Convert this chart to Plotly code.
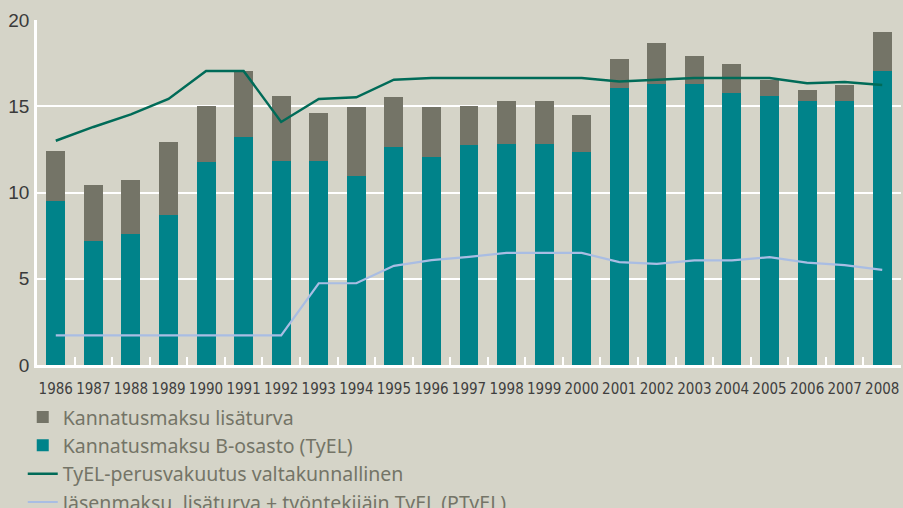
import plotly.graph_objects as go

years = [str(y) for y in range(1986, 2009)]
total = [12.40, 10.43, 10.72, 12.93, 15.01, 17.05, 15.60, 14.61, 14.96, 15.54, 14.96,
         15.01, 15.30, 15.30, 14.49, 17.74, 18.67, 17.92, 17.45, 16.53, 15.95, 16.24, 19.31]
b_osasto = [9.48, 7.18, 7.60, 8.69, 11.76, 13.21, 11.82, 11.82, 10.95, 12.63, 12.05,
            12.75, 12.81, 12.81, 12.35, 16.06, 16.29, 16.29, 15.77, 15.60, 15.30, 15.30, 17.05]
lisaturva = [round(t - b, 2) for t, b in zip(total, b_osasto)]
tyel_perus = [13.0, 13.8, 14.53, 15.42, 17.05, 17.05, 14.09, 15.42, 15.52, 16.54, 16.64,
              16.64, 16.64, 16.64, 16.64, 16.43, 16.52, 16.64, 16.64, 16.64, 16.33, 16.40, 16.23]
jasenmaksu = [1.72, 1.72, 1.72, 1.72, 1.72, 1.72, 1.72, 4.74, 4.74, 5.75, 6.08,
              6.27, 6.50, 6.50, 6.50, 5.96, 5.86, 6.06, 6.06, 6.25, 5.94, 5.79, 5.51]
y_ticks = [0, 5, 10, 15, 20]

BG = "#d5d4c8"
GRAY = "#747467"
TEAL = "#00838a"
DARK = "#006b58"
LIGHT = "#a9bde3"

fig = go.Figure()
fig.add_trace(go.Bar(x=years, y=b_osasto, name="Kannatusmaksu B-osasto (TyEL)",
                     marker=dict(color=TEAL, line=dict(width=0)), legendrank=2))
fig.add_trace(go.Bar(x=years, y=lisaturva, name="Kannatusmaksu lisäturva",
                     marker=dict(color=GRAY, line=dict(width=0)), legendrank=1))
fig.add_trace(go.Scatter(x=years, y=tyel_perus, mode="lines",
                         name="TyEL-perusvakuutus valtakunnallinen",
                         line=dict(color=DARK, width=2.5), legendrank=3))
fig.add_trace(go.Scatter(x=years, y=jasenmaksu, mode="lines",
                         name="Jäsenmaksu, lisäturva + työntekijäin TyEL (PTyEL)",
                         line=dict(color=LIGHT, width=2.2), legendrank=4))

fig.update_layout(
    width=903, height=508,
    margin=dict(l=37, r=2, t=20, b=143, autoexpand=False),
    paper_bgcolor=BG, plot_bgcolor=BG,
    barmode="stack", bargap=0.495,
    font=dict(family="Liberation Sans, Arial, sans-serif", color="#3a3a3a"),
    showlegend=True,
    legend=dict(
        x=-0.0165, xanchor="left", y=-0.095, yanchor="top",
        orientation="v", traceorder="normal",
        font=dict(size=19.5, color=GRAY, family="Noto Sans, Open Sans, sans-serif"),
        bgcolor="rgba(0,0,0,0)", itemwidth=30, tracegroupgap=0,
    ),
    xaxis=dict(
        type="category", range=[-0.5, 22.5], automargin=False,
        showgrid=False, showline=True, linecolor="white", linewidth=2.5,
        ticks="inside", tickson="boundaries", tickcolor="white",
        ticklen=8, tickwidth=2, tickangle=0,
        tickfont=dict(size=15, color="#3f3f3f",
                      family="DejaVu Sans Condensed, Liberation Sans Narrow, Liberation Sans, sans-serif"),
        ticklabelstandoff=8,
    ),
    yaxis=dict(
        range=[0, 20], tickvals=y_ticks, ticktext=[str(v) for v in y_ticks],
        automargin=False,
        showgrid=True, gridcolor="white", gridwidth=2,
        showline=True, linecolor="white", linewidth=2.5,
        zeroline=False, ticks="",
        tickfont=dict(size=19, color="#3a3a3a", family="Liberation Sans, Arial, sans-serif"),
        ticklabelstandoff=1,
    ),
)

fig.write_html(
    "out.html",
    config={"displayModeBar": False},
    post_script="document.body.style.margin='0';document.body.style.overflow='hidden';",
)
